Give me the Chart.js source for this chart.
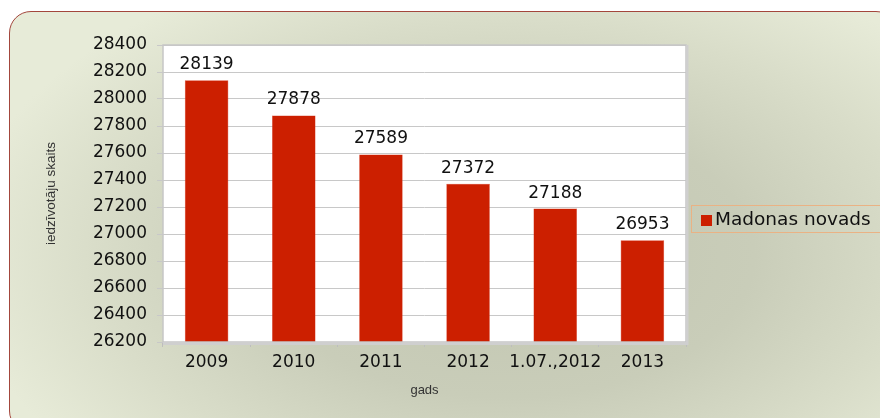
<!DOCTYPE html>
<html>
<head>
<meta charset="utf-8">
<script src="https://cdn.jsdelivr.net/npm/chart.js@4"></script>
<style>
  html, body { margin: 0; padding: 0; background: #fff; }
  #wrap { position: relative; width: 880px; height: 418px; overflow: hidden; }
  #panel {
    position: absolute; left: 9px; top: 11px; width: 887px; height: 420px;
    border: 1.5px solid #a3463c; border-radius: 22px;
    background: radial-gradient(ellipse 62% 75% at 56% 58%, #c2c6b1 0%, #c9cdb9 45%, #d9ddc9 75%, #e7ebd8 100%);
  }
  #chart { position: absolute; left: 0; top: 0; }
  #legend {
    position: absolute; left: 691px; top: 205px; width: 200px; height: 28px;
    border: 1px solid #eab284; box-sizing: border-box;
    font: 18.5px "DejaVu Sans", sans-serif; color: #111; line-height: 26px;
    padding-left: 9px; white-space: nowrap;
  }
  #legend span { display: inline-block; width: 11px; height: 11px; background: #cc1f00; margin-right: 3px; vertical-align: -1px; }
</style>
</head>
<body>
<div id="wrap">
  <div id="panel"></div>
  <canvas id="chart" width="880" height="418"></canvas>
  <div id="legend"><span></span>Madonas novads</div>
</div>
<script>
const years = ['2009', '2010', '2011', '2012', '1.07.,2012', '2013'];
const residents = [28139, 27878, 27589, 27372, 27188, 26953];
const seriesName = 'Madonas novads';
const yMin = 26200, yMax = 28400, yStep = 200;

// white plot area + grey frame
const plotBg = {
    id: 'plotBg',
    beforeDraw(c) {
        const a = c.chartArea, ctx = c.ctx;
        ctx.save();
        ctx.fillStyle = '#fff';
        ctx.fillRect(a.left, a.top, a.right - a.left, a.bottom - a.top);
        ctx.restore();
    },
    afterDraw(c) {
        const a = c.chartArea, ctx = c.ctx;
        ctx.save();
        ctx.strokeStyle = '#c6c6c6';
        ctx.lineWidth = 1.5;
        ctx.strokeRect(a.left, a.top, a.right - a.left, a.bottom - a.top);
        ctx.fillStyle = '#cfcfcf';
        ctx.fillRect(a.left, a.bottom, a.right - a.left + 2, 3);
        ctx.fillRect(a.right, a.top, 2.5, a.bottom - a.top + 3);
        ctx.restore();
    }
};

// value labels above the bars
const valueLabels = {
    id: 'valueLabels',
    afterDatasetsDraw(c) {
        const ctx = c.ctx;
        const meta = c.getDatasetMeta(0);
        ctx.save();
        ctx.font = '17px "DejaVu Sans", sans-serif';
        ctx.fillStyle = '#111';
        ctx.textAlign = 'center';
        ctx.textBaseline = 'alphabetic';
        meta.data.forEach((bar, i) => {
            ctx.fillText(String(residents[i]), bar.x, bar.y - 11);
        });
        ctx.restore();
    }
};

new Chart(document.getElementById('chart'), {
    type: 'bar',
    data: {
        labels: years,
        datasets: [{
            label: seriesName,
            data: residents,
            backgroundColor: '#cc1f00',
            borderColor: '#d8452c',
            borderWidth: 0.5,
            barPercentage: 0.5,
            categoryPercentage: 1
        }]
    },
    options: {
        responsive: false,
        animation: false,
        layout: { padding: { left: 12, top: 45, right: 194, bottom: 0 } },
        plugins: { legend: { display: false }, tooltip: { enabled: false } },
        scales: {
            x: {
                afterFit(s) { s.height = 76; },
                grid: { drawOnChartArea: false, drawTicks: true, tickLength: 5, color: '#bdbdbd' },
                border: { display: false },
                ticks: { color: '#111', padding: 5, font: { family: 'DejaVu Sans', size: 17 }, maxRotation: 0, autoSkip: false },
                title: { display: true, text: 'gads', color: '#333', font: { family: 'Liberation Sans', size: 13 }, padding: { top: 0, bottom: 20 } }
            },
            y: {
                min: yMin, max: yMax,
                afterFit(s) { s.width = 151; },
                grid: { color: '#c8c8c8', tickLength: 6 },
                border: { display: false },
                ticks: { stepSize: yStep, color: '#111', padding: 10, font: { family: 'DejaVu Sans', size: 17 }, callback: v => String(v) },
                title: { display: true, text: 'iedzīvotāju skaits', color: '#333', font: { family: 'Liberation Sans', size: 13.5 }, padding: { top: 31, bottom: 0 } }
            }
        }
    },
    plugins: [plotBg, valueLabels]
});
</script>
</body>
</html>
